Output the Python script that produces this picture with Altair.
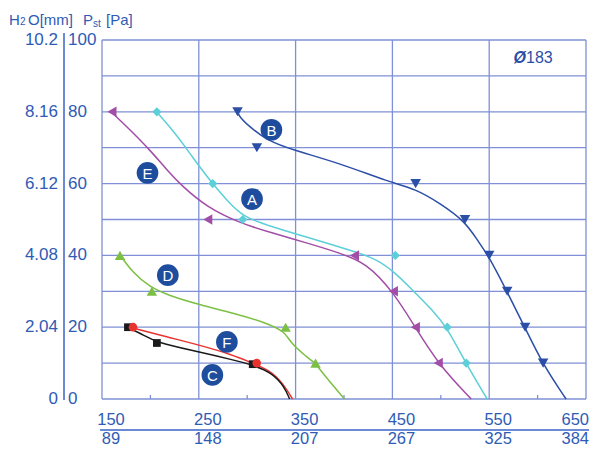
import altair as alt
import pandas as pd

W, H = 484, 359

# ---------------- data ----------------
x_ticks = [150, 250, 350, 450, 550, 650]
x_labels_top = ["150", "250", "350", "450", "550", "650"]
x_labels_bottom = ["89", "148", "207", "267", "325", "384"]
x_minor = [200, 300, 400, 500, 600]
grid_y = [0, 10, 20, 30, 40, 50, 60, 70, 80, 90, 100]
y_ticks = [0, 20, 40, 60, 80, 100]
y_labels_pa = ["0", "20", "40", "60", "80", "100"]
y_labels_mm = ["0", "2.04", "4.08", "6.12", "8.16", "10.2"]
title_parts = ["H", "2", "O[mm]", "P", "st", "[Pa]"]

series = ["C", "F", "D", "E", "A", "B"]
series_colors = ["#1a1a1a", "#e8332f", "#7cc043", "#a24da6", "#5ccfd9", "#2b4ea6"]
series_shapes = ["square", "circle", "triangle-up", "triangle-left", "diamond", "triangle-down"]
series_sizes = [60, 75, 110, 110, 85, 110]

# curve lines
B_x = [290, 292, 302.6, 320.1, 346.9, 395.4, 446.9, 474, 498.5, 525, 537.6, 550, 568.6, 587.1, 605.7, 629.4]
B_y = [80, 78.6, 75.8, 72.1, 69.4, 65.7, 60.4, 58.5, 54.6, 49.5, 44.3, 39.6, 29.8, 19.8, 9.5, 0]
A_x = [206.7, 223.2, 240.7, 251, 264.4, 278.9, 295.4, 326.3, 361.3, 395.4, 429.4, 450, 470.6, 491.2, 506.7, 526.3, 547.9]
A_y = [79.9, 74.9, 68.5, 64.6, 59.9, 55.4, 50.7, 47.9, 45.1, 42.3, 39.6, 35.9, 30.4, 24.8, 19.8, 9.7, 0]
E_x = [160.3, 175.8, 199.5, 217, 233.5, 258.2, 292.3, 326.3, 361.3, 395.4, 423.2, 451, 474, 497.4, 531.4]
E_y = [79.8, 75.8, 69.4, 63.8, 59.1, 53.5, 49.0, 46.2, 43.5, 40.7, 37.9, 29.8, 19.8, 9.7, 0]
D_x = [168.6, 182, 199.5, 217, 251, 285, 320.1, 339.7, 343.8, 361.3, 370.6, 377.8, 400.5]
D_y = [40.1, 35.1, 31.2, 29.0, 26.2, 24.0, 21.2, 18.6, 15.9, 11.7, 10.0, 7.2, 0]
F_x = [182, 217, 251, 285, 302.6, 323.2, 336.6, 346.9]
F_y = [19.8, 17.3, 15.0, 12.3, 10.3, 8.1, 4.5, 0]
C_x = [176.8, 189.2, 206.7, 251, 285, 305.7, 326.3, 338.7, 343.8]
C_y = [19.8, 18.4, 15.6, 13.1, 10.9, 9.5, 7.2, 3.3, 0]

# measured points (markers)
B_px = [290, 310, 474, 525, 550, 568.6, 587.1, 605.7]
B_py = [80, 70, 60, 50, 40, 30, 20, 10]
A_px = [206.7, 264.4, 295.4, 453, 506.7, 526.3]
A_py = [80, 60, 50, 40, 20, 10]
E_px = [160.3, 259.3, 410.8, 451, 473.7, 497.4]
E_py = [80, 50, 40, 30, 20, 10]
D_px = [168.6, 201.5, 339.7, 370.6]
D_py = [40, 30, 20, 10]
F_px = [182, 309.8]
F_py = [20, 10]
C_px = [176.8, 206.7, 305.7]
C_py = [20, 15.6, 9.7]

# curve name badges
badge_text = ["B", "E", "A", "D", "F", "C"]
badge_x = [325, 197, 305, 218, 279, 264]
badge_y = [75, 63, 55.7, 34.5, 15.9, 6.7]

size_text = ["183"]
size_x = [588]
size_y = [95]

# ---------------- tables ----------------
line_src = {"B": (B_x, B_y), "A": (A_x, A_y), "E": (E_x, E_y), "D": (D_x, D_y), "F": (F_x, F_y), "C": (C_x, C_y)}
pt_src = {"B": (B_px, B_py), "A": (A_px, A_py), "E": (E_px, E_py), "D": (D_px, D_py), "F": (F_px, F_py), "C": (C_px, C_py)}
lines_df = pd.concat([pd.DataFrame({"x": v[0], "y": v[1], "s": k, "o": series.index(k)}) for k, v in line_src.items()])
pts_df = pd.concat([pd.DataFrame({"x": v[0], "y": v[1], "s": k, "o": series.index(k),
                                  "sz": series_sizes[series.index(k)]}) for k, v in pt_src.items()])

TXT = "#2f5bb5"
GRID = "#7f90d6"
FONT = "Liberation Sans"

xs = alt.Scale(domain=[150, 650], nice=False, zero=False)
ys = alt.Scale(domain=[0, 100], nice=False, zero=False)
col = alt.Color("s:N", scale=alt.Scale(domain=series, range=series_colors), legend=None)

# grid
hgrid = alt.Chart(pd.DataFrame({"y": grid_y})).mark_rule(color=GRID, strokeWidth=1.3).encode(
    y=alt.Y("y:Q", scale=ys, axis=None), x=alt.value(0), x2=alt.value(W))
vgrid = alt.Chart(pd.DataFrame({"x": x_ticks})).mark_rule(color=GRID, strokeWidth=1.3).encode(
    x=alt.X("x:Q", scale=xs, axis=None), y=alt.value(0), y2=alt.value(H))
minor = alt.Chart(pd.DataFrame({"x": x_minor})).mark_rule(color=GRID, strokeWidth=1.3).encode(
    x=alt.X("x:Q", scale=xs, axis=None), y=alt.value(H), y2=alt.value(H - 4))

# x labels
ROW1, SEP, ROW2 = H + 26, H + 31, H + 45
xl_df = pd.DataFrame({"x": x_ticks, "top": x_labels_top, "bot": x_labels_bottom})
def xlab(field, ypos, last):
    flt = "datum.x == 650" if last else "datum.x < 650"
    return alt.Chart(xl_df).transform_filter(flt).mark_text(
        align="right" if last else "center", baseline="alphabetic", fontSize=16.5, font=FONT,
        color=TXT, dx=3 if last else 9).encode(
        x=alt.X("x:Q", scale=xs, axis=None), y=alt.value(ypos), text=f"{field}:N")
x_label_layers = [xlab("top", ROW1, False), xlab("top", ROW1, True),
                  xlab("bot", ROW2, False), xlab("bot", ROW2, True)]
sep = alt.Chart(pd.DataFrame({"a": [0]})).mark_rule(color="#3a63c8", strokeWidth=1.5).encode(
    x=alt.value(-2), x2=alt.value(W + 3), y=alt.value(SEP))

# y labels
yl_df = pd.DataFrame({"y": y_ticks, "pa": y_labels_pa, "mm": y_labels_mm})
yl_pa = alt.Chart(yl_df).mark_text(align="left", baseline="middle", fontSize=17, font=FONT, color=TXT).encode(
    y=alt.Y("y:Q", scale=ys, axis=None), x=alt.value(-34), text="pa:N")
yl_mm = alt.Chart(yl_df).mark_text(align="right", baseline="middle", fontSize=17, font=FONT, color=TXT).encode(
    y=alt.Y("y:Q", scale=ys, axis=None), x=alt.value(-44), text="mm:N")
ysep = alt.Chart(pd.DataFrame({"a": [0]})).mark_rule(color="#3a63c8", strokeWidth=1.5).encode(
    x=alt.value(-38), y=alt.value(-7), y2=alt.value(H + 1))

# title pieces
t_pos = [(-93, -15, 15), (-82, -15, 10), (-74, -15, 15), (-19, -15, 15), (-9, -13, 10), (4, -15, 15)]
title_layers = []
for txt, (tx, ty, fs) in zip(title_parts, t_pos):
    title_layers.append(
        alt.Chart(pd.DataFrame({"t": [txt]})).mark_text(
            align="left", baseline="alphabetic", fontSize=fs, font=FONT, color=TXT).encode(
            x=alt.value(tx), y=alt.value(ty), text="t:N"))

# curves
lines = alt.Chart(lines_df).mark_line(interpolate="basis", strokeWidth=1.5).encode(
    x=alt.X("x:Q", scale=xs, axis=None), y=alt.Y("y:Q", scale=ys, axis=None), color=col,
    detail="s:N", order=alt.Order("x:Q"))
points = alt.Chart(pts_df).mark_point(filled=True, opacity=1).encode(
    x=alt.X("x:Q", scale=xs, axis=None), y=alt.Y("y:Q", scale=ys, axis=None), color=col,
    shape=alt.Shape("s:N", scale=alt.Scale(domain=series, range=series_shapes), legend=None),
    size=alt.Size("sz:Q", scale=None, legend=None),
    order=alt.Order("o:Q"))

badge_df = pd.DataFrame({"x": badge_x, "y": badge_y, "t": badge_text})
badges = alt.Chart(badge_df).mark_circle(size=470, color="#1f4d9e", opacity=1).encode(
    x=alt.X("x:Q", scale=xs, axis=None), y=alt.Y("y:Q", scale=ys, axis=None))
badge_txt = alt.Chart(badge_df).mark_text(color="white", fontSize=15, font=FONT, baseline="middle", dy=1).encode(
    x=alt.X("x:Q", scale=xs, axis=None), y=alt.Y("y:Q", scale=ys, axis=None), text="t:N")

sz_df = pd.DataFrame({"x": size_x, "y": size_y, "t": size_text})
sz_sym = alt.Chart(sz_df).mark_text(align="right", baseline="middle", fontSize=16, font=FONT,
                                     fontStyle="italic", fontWeight="bold", color="#2b4ea6").encode(
    x=alt.X("x:Q", scale=xs, axis=None), y=alt.Y("y:Q", scale=ys, axis=None), text=alt.value("\u00d8"))
sz_num = alt.Chart(sz_df).mark_text(align="left", baseline="middle", fontSize=16, font=FONT, color="#2b4ea6").encode(
    x=alt.X("x:Q", scale=xs, axis=None), y=alt.Y("y:Q", scale=ys, axis=None), text="t:N")

chart = alt.layer(
    hgrid, vgrid, minor, lines, points, badges, badge_txt, sz_sym, sz_num,
    *x_label_layers, sep, yl_pa, yl_mm, ysep, *title_layers
).properties(
    width=W, height=H,
    padding={"left": 94, "top": 32, "right": 4, "bottom": 49},
    autosize=alt.AutoSizeParams(type="none"),
    background="white",
).configure_view(stroke=None)

chart.save("out.html", embed_options={"renderer": "svg", "actions": False})
